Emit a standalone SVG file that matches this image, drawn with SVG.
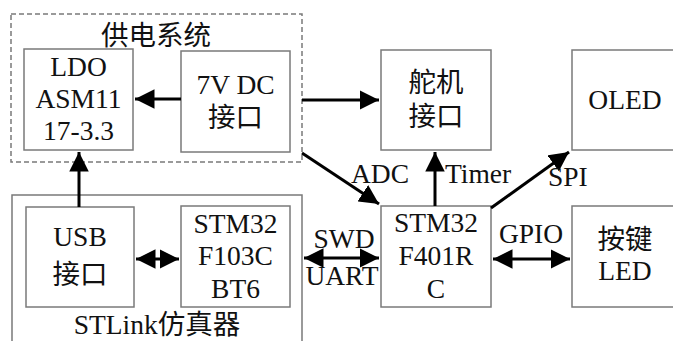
<svg xmlns="http://www.w3.org/2000/svg" width="673" height="341" viewBox="0 0 673 341">
<defs>
<style>
.box{fill:#fff;stroke:#7a7a7a;stroke-width:1.5}
.grp{fill:none;stroke:#7a7a7a;stroke-width:1.5}
.dash{stroke-dasharray:5,3}
.t{font-family:"Liberation Serif","Noto Sans CJK SC",serif;font-size:27.5px;fill:#111;text-anchor:middle}
.ts{font-family:"Liberation Serif","Noto Sans CJK SC",serif;font-size:27.5px;fill:#111}
.c{stroke:#000;stroke-width:3;fill:none}
</style>
<marker id="ah" viewBox="0 0 10 10" refX="10" refY="5" markerWidth="6.5" markerHeight="6.5" markerUnits="strokeWidth" orient="auto-start-reverse">
<path d="M0,0 L10,5 L0,10 z" fill="#000"/>
</marker>
</defs>
<rect width="673" height="341" fill="#fff"/>
<g id="power-group">
<rect class="grp dash" x="11" y="14" width="291" height="148"/>
<text class="t" x="156" y="45">供电系统</text>
</g>
<g id="stlink-group">
<path class="grp" d="M12,345 V195 H302 V345"/>
<text class="t" x="157" y="334">STLink仿真器</text>
</g>
<g id="ldo">
<rect class="box" x="24" y="49" width="109" height="101"/>
<text class="t" x="78.5" y="76">LDO</text>
<text class="t" x="78.5" y="108">ASM11</text>
<text class="t" x="78.5" y="140">17-3.3</text>
</g>
<g id="dc7v">
<rect class="box" x="181" y="51" width="109" height="101"/>
<text class="t" x="235.5" y="94">7V DC</text>
<text class="t" x="235.5" y="127">接口</text>
</g>
<g id="servo">
<rect class="box" x="381" y="50" width="110" height="100"/>
<text class="t" x="436" y="92">舵机</text>
<text class="t" x="436" y="126">接口</text>
</g>
<g id="oled">
<rect class="box" x="572" y="50" width="120" height="100"/>
<text class="t" x="625" y="109">OLED</text>
</g>
<g id="usb">
<rect class="box" x="26" y="207" width="108" height="100"/>
<text class="t" x="80" y="246">USB</text>
<text class="t" x="80" y="284">接口</text>
</g>
<g id="f103">
<rect class="box" x="181" y="206" width="109" height="101"/>
<text class="t" x="235.5" y="233">STM32</text>
<text class="t" x="235.5" y="265">F103C</text>
<text class="t" x="235.5" y="298">BT6</text>
</g>
<g id="f401">
<rect class="box" x="381" y="206" width="110" height="101"/>
<text class="t" x="436" y="232">STM32</text>
<text class="t" x="436" y="265">F401R</text>
<text class="t" x="436" y="298">C</text>
</g>
<g id="keyled">
<rect class="box" x="572" y="206" width="120" height="101"/>
<text class="t" x="625" y="249">按键</text>
<text class="t" x="625" y="280">LED</text>
</g>
<g id="connectors">
<line class="c" x1="181" y1="99" x2="135" y2="99" marker-end="url(#ah)"/>
<line class="c" x1="302" y1="100" x2="379" y2="100" marker-end="url(#ah)"/>
<line class="c" x1="79" y1="207" x2="79" y2="152" marker-end="url(#ah)"/>
<line class="c" x1="136" y1="259" x2="179" y2="259" marker-start="url(#ah)" marker-end="url(#ah)"/>
<line class="c" x1="304" y1="258" x2="379" y2="258" marker-start="url(#ah)" marker-end="url(#ah)"/>
<line class="c" x1="493" y1="259" x2="570" y2="259" marker-start="url(#ah)" marker-end="url(#ah)"/>
<line class="c" x1="435" y1="206" x2="435" y2="152" marker-end="url(#ah)"/>
<line class="c" x1="302" y1="153" x2="379" y2="204" marker-end="url(#ah)"/>
<line class="c" x1="491" y1="208" x2="569" y2="152" marker-end="url(#ah)"/>
<text class="ts" x="351" y="183">ADC</text>
<text class="ts" x="445" y="183">Timer</text>
<text class="ts" x="548" y="186">SPI</text>
<text class="t" x="344" y="248">SWD</text>
<text class="t" x="342" y="285">UART</text>
<text class="t" x="531" y="243">GPIO</text>
</g>
</svg>
